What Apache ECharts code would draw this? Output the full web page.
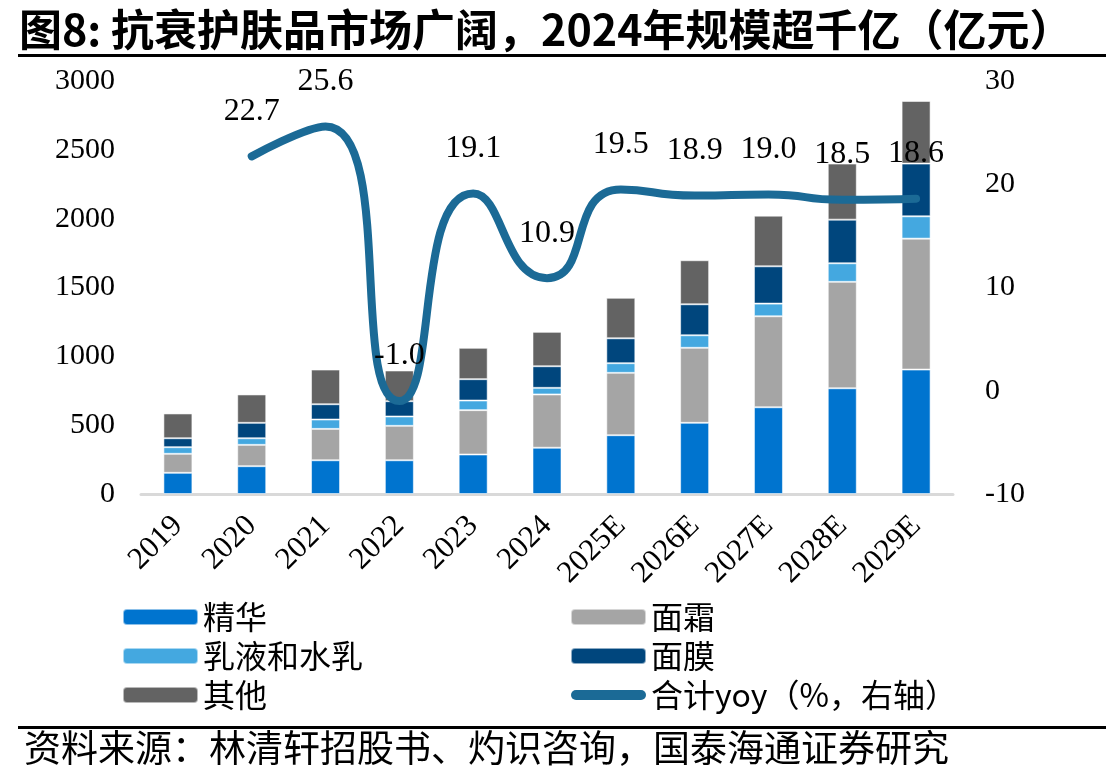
<!DOCTYPE html>
<html>
<head>
<meta charset="utf-8">
<script src="https://cdn.jsdelivr.net/npm/echarts@6/dist/echarts.min.js"></script>
<style>
  html, body { margin: 0; padding: 0; background: #fff; }
  #chart { width: 1106px; height: 781px; }
</style>
</head>
<body>
<div id="chart"></div>
<script>
// 年份
const years = ['2019', '2020', '2021', '2022', '2023', '2024', '2025E', '2026E', '2027E', '2028E', '2029E'];
// 各品类规模（亿元）
const jinghua = [154, 202, 245, 245, 287, 336, 427, 517, 630, 768, 904];
const mianshuang = [138, 155, 228, 250, 322, 387, 453, 545, 661, 773, 951];
const ruye = [48, 48, 68, 68, 70, 48, 70, 91, 92, 135, 162];
const mianmo = [65, 112, 111, 111, 155, 157, 181, 225, 271, 317, 383];
const qita = [180, 206, 252, 223, 228, 250, 294, 320, 368, 407, 455];
// 合计同比（%）
const yoy = [null, 22.7, 25.6, -1.0, 19.1, 10.9, 19.5, 18.9, 19.0, 18.5, 18.6];

const serif = '"Liberation Serif", "Times New Roman", serif';
const cjk = '"Noto Sans CJK SC", sans-serif';
const lineColor = '#1B6A96';

const barStyle = (color) => ({
  color: color,
  borderColor: 'rgba(255,255,255,0.55)',
  borderWidth: 1
});

const chart = echarts.init(document.getElementById('chart'));
const option = {
  backgroundColor: '#fff',
  animation: false,
  title: {
    text: '图8: 抗衰护肤品市场广阔，2024年规模超千亿（亿元）',
    left: 14,
    top: 3,
    textStyle: { fontFamily: cjk, fontSize: 43, fontWeight: 'bold', color: '#000' }
  },
  graphic: [
    { type: 'rect', shape: { x: 18, y: 54, width: 1088, height: 3 }, style: { fill: '#000' } },
    { type: 'rect', shape: { x: 18, y: 726, width: 1088, height: 3 }, style: { fill: '#000' } },
    {
      type: 'text', left: 24, top: 729,
      style: { text: '资料来源：林清轩招股书、灼识咨询，国泰海通证券研究', font: '37px ' + cjk, fill: '#000' }
    }
  ],
  grid: { left: 141, right: 153, top: 81, bottom: 287 },
  legend: [
    {
      orient: 'vertical', left: 117, top: 596, itemWidth: 75, itemHeight: 16, itemGap: 7,
      textStyle: { fontFamily: cjk, fontSize: 32, color: '#000', lineHeight: 32 },
      data: ['精华', '乳液和水乳', '其他']
    },
    {
      orient: 'vertical', left: 565, top: 596, itemWidth: 75, itemHeight: 16, itemGap: 7,
      textStyle: { fontFamily: cjk, fontSize: 32, color: '#000', lineHeight: 32 },
      data: ['面霜', '面膜', {
        name: '合计yoy（%，右轴）',
        icon: 'path://M5,0H70A5,5,0,0,1,70,10H5A5,5,0,0,1,5,0Z'
      }]
    }
  ],
  xAxis: {
    type: 'category',
    data: years,
    axisLine: { lineStyle: { color: '#D9D9D9', width: 3 } },
    axisTick: { show: false },
    axisLabel: { rotate: 45, margin: 27, interval: 0, color: '#000', fontFamily: serif, fontSize: 31 }
  },
  yAxis: [
    {
      type: 'value', min: 0, max: 3000, interval: 500,
      axisLine: { show: false }, axisTick: { show: false }, splitLine: { show: false },
      axisLabel: { margin: 26, color: '#000', fontFamily: serif, fontSize: 30, formatter: (v) => String(v) }
    },
    {
      type: 'value', min: -10, max: 30, interval: 10,
      axisLine: { show: false }, axisTick: { show: false }, splitLine: { show: false },
      axisLabel: { margin: 32, color: '#000', fontFamily: serif, fontSize: 30, formatter: (v) => String(v) }
    }
  ],
  series: [
    { name: '精华', type: 'bar', stack: 'total', barWidth: 29, data: jinghua, itemStyle: barStyle('#0074CF') },
    { name: '面霜', type: 'bar', stack: 'total', data: mianshuang, itemStyle: barStyle('#A5A5A5') },
    { name: '乳液和水乳', type: 'bar', stack: 'total', data: ruye, itemStyle: barStyle('#44A8E0') },
    { name: '面膜', type: 'bar', stack: 'total', data: mianmo, itemStyle: barStyle('#00467D') },
    { name: '其他', type: 'bar', stack: 'total', data: qita, itemStyle: barStyle('#636363') },
    {
      name: '合计yoy（%，右轴）',
      type: 'line',
      yAxisIndex: 1,
      data: yoy,
      smooth: 0.6,
      symbol: 'none',
      z: 10,
      lineStyle: { color: lineColor, width: 8, cap: 'round' },
      itemStyle: { color: lineColor }
    },
    {
      // 数据标签
      name: 'yoy标签',
      type: 'scatter',
      yAxisIndex: 1,
      data: yoy,
      symbolSize: 0,
      z: 11,
      silent: true,
      itemStyle: { opacity: 1, color: lineColor },
      label: {
        show: true,
        position: 'top',
        distance: 29,
        color: '#000',
        opacity: 1,
        fontFamily: serif,
        fontSize: 32,
        formatter: (p) => p.value == null ? '' : Number(p.value[1] !== undefined ? p.value[1] : p.value).toFixed(1)
      }
    }
  ]
};
chart.setOption(option);
</script>
</body>
</html>
